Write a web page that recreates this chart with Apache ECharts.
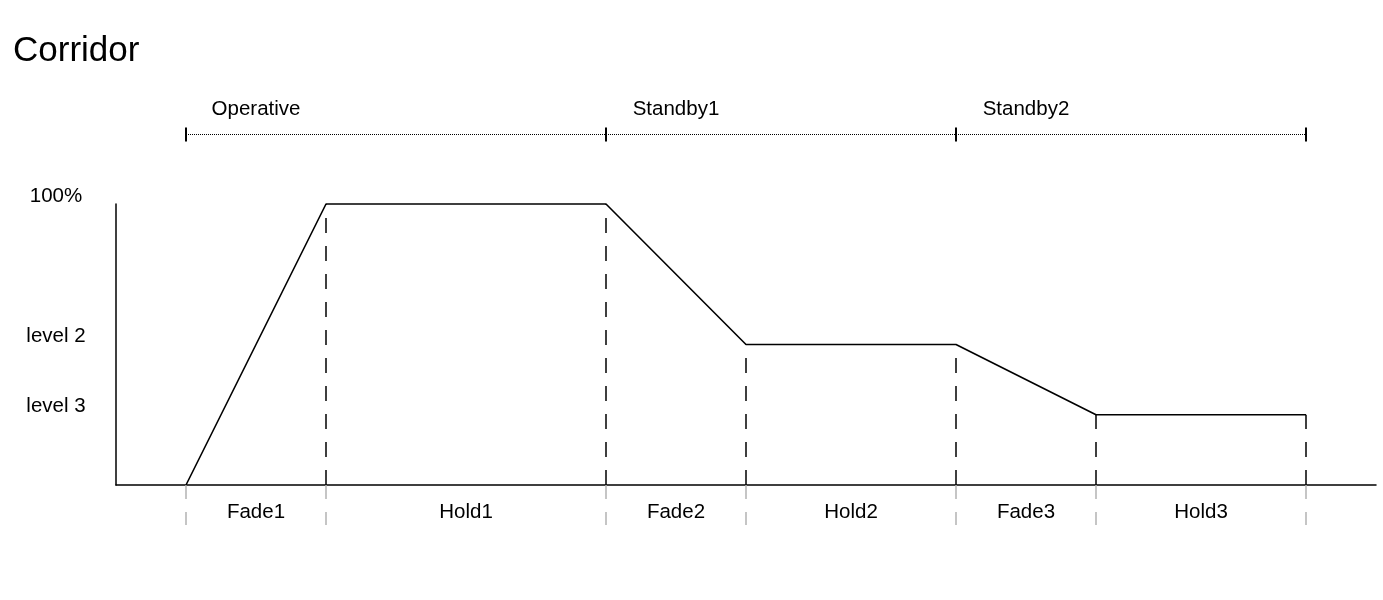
<!DOCTYPE html>
<html>
<head>
<meta charset="utf-8">
<script src="https://cdn.jsdelivr.net/npm/echarts@6/dist/echarts.min.js"></script>
<style>
  html, body { margin: 0; padding: 0; background: #fff; }
  #chart { width: 1383px; height: 600px; }
</style>
</head>
<body>
<div id="chart"></div>
<script>
// ---- data ----
const breakX = [0, 2, 6, 8, 11, 13, 16];
const levelY = [0, 100, 100, 50, 50, 25, 25];
const segmentNames = ['Fade1', 'Hold1', 'Fade2', 'Hold2', 'Fade3', 'Hold3'];
const phaseNames = ['Operative', 'Standby1', 'Standby2'];
const phaseBounds = [0, 6, 11, 16];
const levelTicks = [100, 50, 25];
const levelNames = ['100%', 'level 2', 'level 3'];

// ---- derived ----
const FONT = 'Liberation Sans, Arial, sans-serif';
const curve = breakX.map((x, i) => [x, levelY[i]]);
const segMids = segmentNames.map((_, i) => (breakX[i] + breakX[i + 1]) / 2);
const phaseLabelAt = phaseNames.map((_, i) => {
  const k = breakX.indexOf(phaseBounds[i]);
  return (breakX[k] + breakX[k + 1]) / 2;
});
const findName = (vals, names, v) => {
  for (let i = 0; i < vals.length; i++) if (Math.abs(vals[i] - v) < 1e-6) return names[i];
  return '';
};

const chart = echarts.init(document.getElementById('chart'), null, { renderer: 'canvas' });
chart.setOption({
  animation: false,
  backgroundColor: '#fff',
  title: {
    text: 'Corridor',
    left: 13, top: 34, padding: 0,
    textStyle: { fontFamily: FONT, fontSize: 35, fontWeight: 'normal', color: '#000' }
  },
  grid: [
    { left: 116, right: 7, top: 204, bottom: 115, containLabel: false, outerBoundsMode: 'none' },
    { left: 116, right: 7, top: 127.5, height: 14, containLabel: false, outerBoundsMode: 'none' }
  ],
  xAxis: [
    {
      type: 'value', gridIndex: 0, min: -1, max: 17,
      splitLine: { show: false },
      axisLine: { show: true, onZero: false, lineStyle: { color: '#000', width: 1.5 } },
      axisTick: {
        show: true, customValues: breakX, length: 40,
        lineStyle: { color: '#b3b3b3', width: 1.5, type: [14, 13] }
      },
      axisLabel: {
        customValues: segMids,
        formatter: v => findName(segMids, segmentNames, v),
        margin: 27, verticalAlign: 'middle',
        fontFamily: FONT, fontSize: 20.5, color: '#000'
      }
    },
    {
      type: 'value', gridIndex: 1, min: -1, max: 17, position: 'top',
      splitLine: { show: false },
      axisLine: { show: false },
      axisTick: { show: false },
      axisLabel: {
        customValues: phaseLabelAt,
        formatter: v => findName(phaseLabelAt, phaseNames, v),
        margin: 18, verticalAlign: 'middle',
        fontFamily: FONT, fontSize: 20.5, color: '#000'
      }
    }
  ],
  yAxis: [
    {
      type: 'value', gridIndex: 0, min: 0, max: 100,
      splitLine: { show: false },
      axisLine: { show: true, onZero: false, lineStyle: { color: '#000', width: 1.5 } },
      axisTick: { show: false },
      axisLabel: {
        customValues: levelTicks,
        formatter: v => findName(levelTicks, levelNames, v),
        align: 'center', margin: 60, verticalAlign: 'bottom',
        lineHeight: 16,
        fontFamily: FONT, fontSize: 20.5, color: '#000'
      }
    },
    { type: 'value', gridIndex: 1, min: -1, max: 1, show: false }
  ],
  series: [
    {
      type: 'line', xAxisIndex: 0, yAxisIndex: 0,
      data: curve, symbol: 'none', clip: false, silent: true,
      lineStyle: { color: '#000', width: 1.6 },
      markLine: {
        silent: true, symbol: ['none', 'none'], animation: false,
        label: { show: false },
        lineStyle: { color: '#000', width: 1.5, type: [15, 13] },
        emphasis: { disabled: true },
        data: curve.slice(1).map(p => [{ coord: [p[0], 0] }, { coord: [p[0], p[1]] }])
      }
    },
    {
      type: 'line', xAxisIndex: 1, yAxisIndex: 1,
      data: phaseBounds.map(x => [x, 0]), symbol: 'none', clip: false, silent: true,
      lineStyle: { color: '#000', width: 1, type: [1, 1] },
      markLine: {
        silent: true, symbol: ['none', 'none'], animation: false,
        label: { show: false },
        lineStyle: { color: '#000', width: 2, type: 'solid' },
        emphasis: { disabled: true },
        data: phaseBounds.map(x => [{ coord: [x, -1] }, { coord: [x, 1] }])
      }
    }
  ]
});
</script>
</body>
</html>
